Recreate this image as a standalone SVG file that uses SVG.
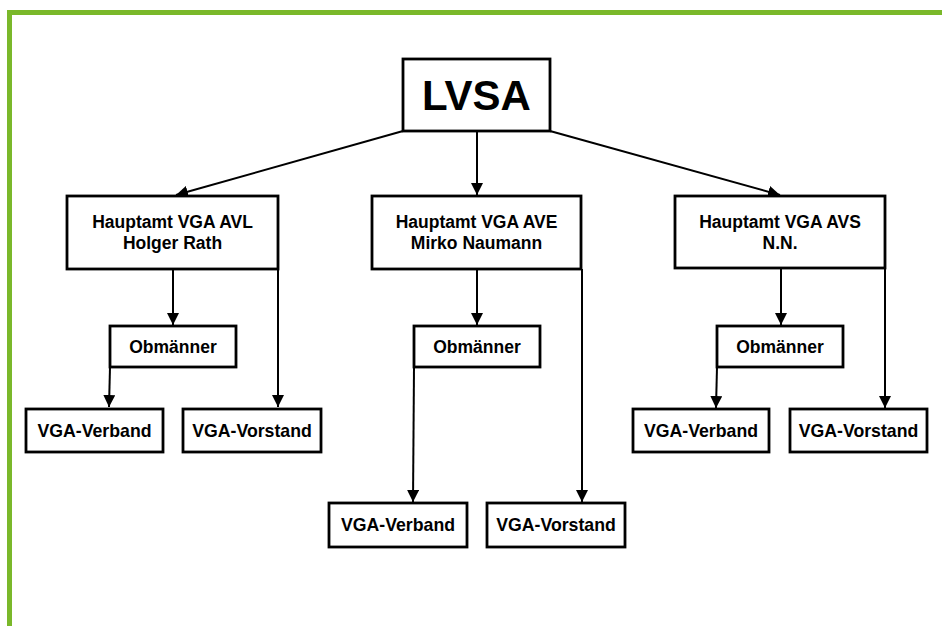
<svg xmlns="http://www.w3.org/2000/svg" width="942" height="626" viewBox="0 0 942 626">
<style>
.box{fill:#fff;stroke:#000;stroke-width:2.8}
.t{font-family:"Liberation Sans",Arial,sans-serif;font-weight:bold;fill:#000;text-anchor:middle}
.s{font-size:17.5px}
.m{font-size:17.7px}
.c{fill:none;stroke:#000;stroke-width:2;marker-end:url(#ah)}
</style>
<defs>
<marker id="ah" viewBox="0 0 10 10" refX="10" refY="5" markerWidth="6" markerHeight="6" markerUnits="strokeWidth" orient="auto">
<path d="M0,0 L10,5 L0,10 z" fill="#000"/>
</marker>
</defs>
<rect x="0" y="0" width="942" height="626" fill="#fff"/>
<path d="M9.5,626 V12.5 H942" fill="none" stroke="#7ab82a" stroke-width="5"/>
<g id="connectors">
<line class="c" x1="403" y1="131" x2="176" y2="195"/>
<line class="c" x1="477" y1="131" x2="477" y2="195"/>
<line class="c" x1="550" y1="131" x2="780" y2="195"/>
<line class="c" x1="173" y1="269" x2="173" y2="325"/>
<line class="c" x1="110" y1="367" x2="109" y2="407"/>
<line class="c" x1="278" y1="269" x2="278" y2="407"/>
<line class="c" x1="477" y1="269" x2="477" y2="325"/>
<line class="c" x1="414" y1="367" x2="413" y2="502"/>
<line class="c" x1="582" y1="269" x2="582" y2="502"/>
<line class="c" x1="781" y1="268" x2="781" y2="325"/>
<line class="c" x1="717" y1="367" x2="716" y2="408"/>
<line class="c" x1="885" y1="268" x2="885" y2="408"/>
</g>
<g id="lvsa"><rect class="box" x="403" y="59" width="147" height="72"/><text class="t" x="476.5" y="110" font-size="42">LVSA</text></g>
<g id="avl"><rect class="box" x="67" y="196" width="211" height="73"/><text class="t s" x="172.5" y="228">Hauptamt VGA AVL</text><text class="t s" x="172.5" y="249">Holger Rath</text></g>
<g id="ave"><rect class="box" x="372" y="196" width="209" height="73"/><text class="t s" x="476.5" y="228">Hauptamt VGA AVE</text><text class="t s" x="476.5" y="249">Mirko Naumann</text></g>
<g id="avs"><rect class="box" x="675" y="196" width="210" height="72"/><text class="t s" x="780" y="228">Hauptamt VGA AVS</text><text class="t s" x="780" y="249">N.N.</text></g>
<g id="obm1"><rect class="box" x="110" y="326" width="126" height="41"/><text class="t s" x="173" y="353">Obmänner</text></g>
<g id="obm2"><rect class="box" x="414" y="326" width="126" height="41"/><text class="t s" x="477" y="353">Obmänner</text></g>
<g id="obm3"><rect class="box" x="717" y="326" width="126" height="41"/><text class="t s" x="780" y="353">Obmänner</text></g>
<g id="verband1"><rect class="box" x="26" y="409" width="137" height="43"/><text class="t m" x="94.5" y="437">VGA-Verband</text></g>
<g id="vorstand1"><rect class="box" x="183" y="409" width="138" height="43"/><text class="t m" x="252" y="437">VGA-Vorstand</text></g>
<g id="verband2"><rect class="box" x="329" y="503" width="138" height="44"/><text class="t m" x="398" y="530.5">VGA-Verband</text></g>
<g id="vorstand2"><rect class="box" x="487" y="503" width="138" height="44"/><text class="t m" x="556" y="530.5">VGA-Vorstand</text></g>
<g id="verband3"><rect class="box" x="633" y="409" width="136" height="43"/><text class="t m" x="701" y="437">VGA-Verband</text></g>
<g id="vorstand3"><rect class="box" x="790" y="409" width="137" height="43"/><text class="t m" x="858.5" y="437">VGA-Vorstand</text></g>
</svg>
